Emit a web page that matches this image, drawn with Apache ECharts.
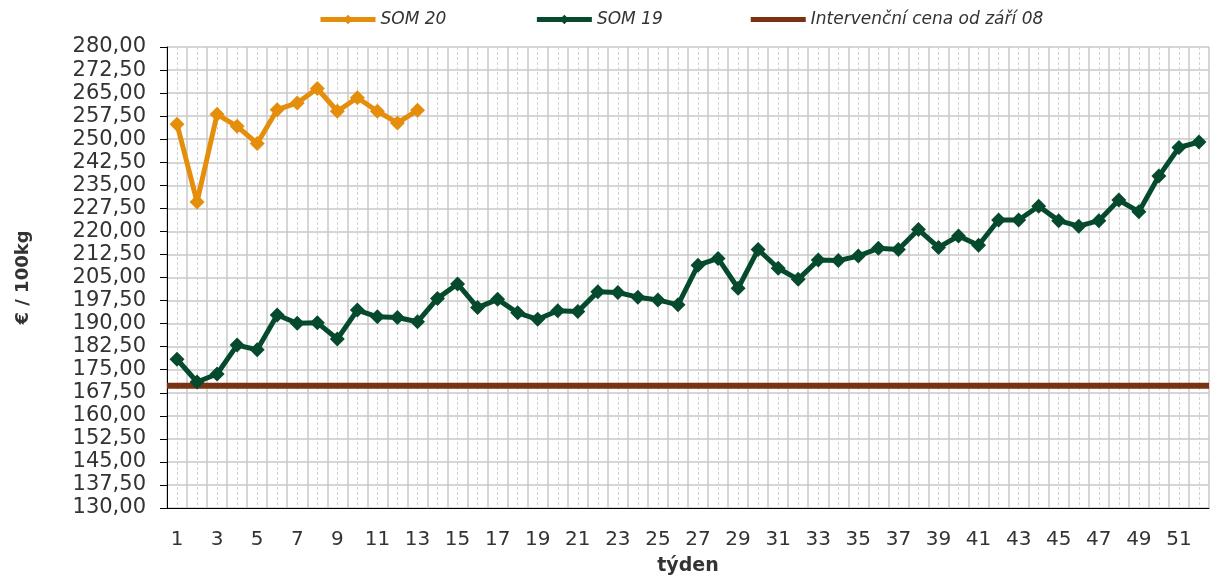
<!DOCTYPE html>
<html>
<head>
<meta charset="utf-8">
<script src="https://cdn.jsdelivr.net/npm/echarts@6/dist/echarts.min.js"></script>
<style>
  html, body { margin: 0; padding: 0; background: #fff; }
  #chart { width: 1228px; height: 576px; }
</style>
</head>
<body>
<div id="chart"></div>
<script>
// týdny 1..52
const weeks = [];
for (let i = 1; i <= 52; i++) weeks.push(String(i));

const som20 = [254.9, 229.6, 258.1, 254.2, 248.6, 259.6, 261.8, 266.5, 259.1, 263.5, 259.1, 255.3, 259.4];

const som19 = [
  178.4, 171.0, 173.6, 183.0, 181.5, 192.8, 190.1, 190.3, 185.0, 194.4,
  192.2, 192.0, 190.6, 198.2, 202.9, 195.2, 197.9, 193.5, 191.4, 194.2,
  193.9, 200.4, 200.1, 198.6, 197.7, 196.1, 209.0, 211.2, 201.5, 214.1,
  208.0, 204.4, 210.7, 210.5, 212.0, 214.5, 214.1, 220.6, 214.8, 218.5,
  215.5, 223.7, 223.7, 228.2, 223.5, 221.7, 223.5, 230.2, 226.4, 238.0,
  247.3, 249.1
];

const interventionPrice = 169.8;

const FONT = '"DejaVu Sans", Verdana, sans-serif';
const fmt = v => v.toFixed(2).replace('.', ',');

const chart = echarts.init(document.getElementById('chart'));
chart.setOption({
  animation: false,
  textStyle: { fontFamily: FONT },
  legend: {
    top: 6,
    left: 313,
    itemGap: 88,
    itemWidth: 55,
    itemHeight: 12,
    lineStyle: { width: 5 },
    textStyle: { fontFamily: FONT, fontStyle: 'italic', fontSize: 17, color: '#333' },
    data: [
      'SOM 20',
      'SOM 19',
      { name: 'Intervenční cena od září 08', icon: 'path://M0,0 L55,0 L55,5 L0,5 Z' }
    ]
  },
  grid: { left: 167, top: 47, right: 19, bottom: 68, outerBoundsMode: 'none', containLabel: false },
  xAxis: [{
    type: 'category',
    data: weeks,
    boundaryGap: true,
    name: 'týden',
    nameLocation: 'middle',
    nameGap: 49,
    nameTextStyle: { fontFamily: FONT, fontWeight: 'bold', fontSize: 19, color: '#333' },
    axisLine: { lineStyle: { color: '#000', width: 1 } },
    axisTick: { interval: 0, inside: false, length: 7, lineStyle: { color: '#000' } },
    axisLabel: { interval: 1, fontSize: 20, color: '#333', margin: 22 },
    splitLine: { show: false }
  }, {
    type: 'value',
    min: 0,
    max: weeks.length,
    interval: 1,
    position: 'top',
    axisLine: { show: false },
    axisTick: { show: false },
    axisLabel: { show: false },
    splitLine: { show: true, lineStyle: { color: '#c8c8c8', width: 1.5 } },
    minorTick: { show: false, splitNumber: 2 },
    minorSplitLine: { show: true, lineStyle: { color: '#d2d2d2', width: 1, type: [3, 2] } }
  }],
  yAxis: {
    type: 'value',
    min: 130,
    max: 280,
    interval: 7.5,
    name: '€ / 100kg',
    nameLocation: 'middle',
    nameGap: 135,
    nameRotate: 90,
    nameTextStyle: { fontFamily: FONT, fontWeight: 'bold', fontSize: 18, color: '#333' },
    axisLine: { show: true, lineStyle: { color: '#000', width: 1 } },
    axisTick: { show: true, length: 7, lineStyle: { color: '#000' } },
    axisLabel: { fontSize: 21, color: '#333', margin: 21, formatter: fmt },
    splitLine: { show: true, lineStyle: { color: '#c8c8c8', width: 1.5 } }
  },
  series: [{
    name: 'SOM 20',
    type: 'line',
    data: som20,
    symbol: 'diamond',
    symbolSize: 15,
    showAllSymbol: true,
    lineStyle: { width: 5, color: '#e58e0b' },
    itemStyle: { color: '#e58e0b' },
    z: 4
  }, {
    name: 'SOM 19',
    type: 'line',
    data: som19,
    symbol: 'diamond',
    symbolSize: 15,
    showAllSymbol: true,
    lineStyle: { width: 5, color: '#064a2e' },
    itemStyle: { color: '#064a2e' },
    z: 3
  }, {
    name: 'Intervenční cena od září 08',
    type: 'line',
    xAxisIndex: 1,
    data: [[0, interventionPrice], [weeks.length, interventionPrice]],
    symbol: 'none',
    lineStyle: { width: 6, color: '#7a3212' },
    itemStyle: { color: '#7a3212' },
    z: 2
  }]
});
</script>
</body>
</html>
